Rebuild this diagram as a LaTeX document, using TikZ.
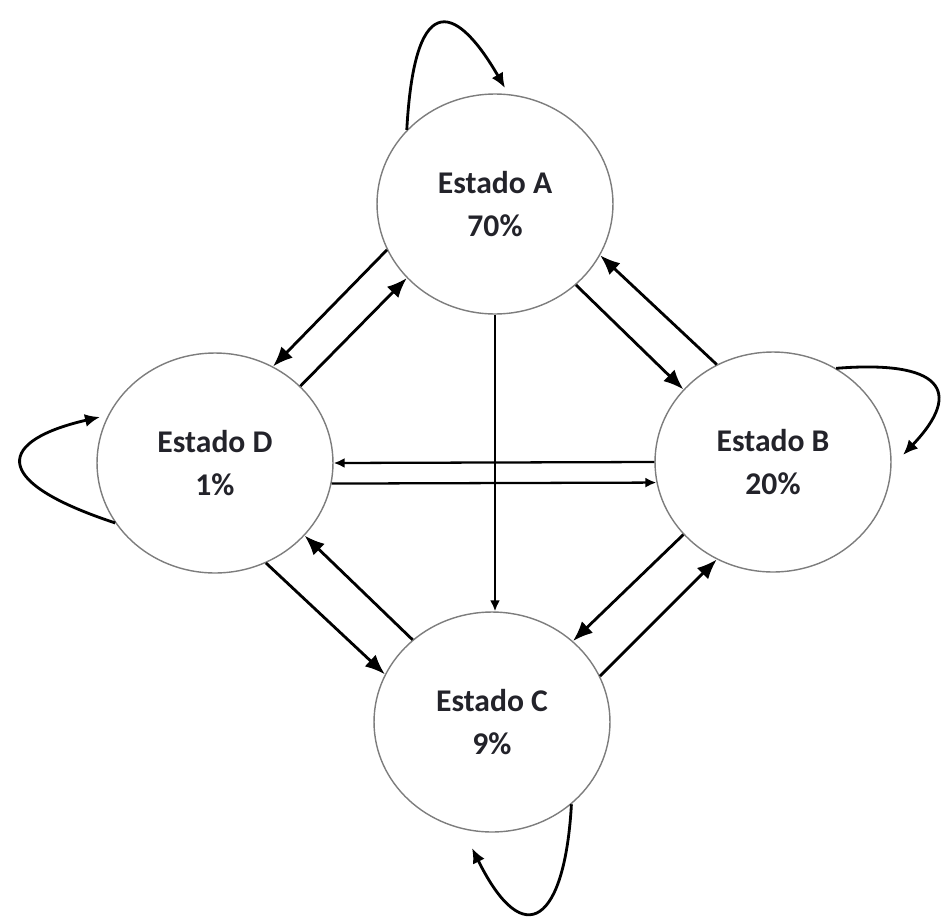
\documentclass[tikz,border=0pt]{standalone}
\usepackage{fontspec}
\setmainfont{Carlito}
\usepackage{tikz}
\usetikzlibrary{arrows.meta, shapes.geometric}
\definecolor{cBorder}{RGB}{125,125,125}
\definecolor{cText}{RGB}{35,35,42}

\begin{document}
\begin{tikzpicture}[x=0.02cm, y=-0.02cm,
        estado/.style={ellipse, draw=cBorder, line width=0.8pt, minimum width=4.72cm,
        minimum height=4.4cm, inner sep=0pt, align=center,
        font=\fontsize{18}{24}\selectfont\bfseries, text=cText},
        arrow/.style={-{Latex[length=4mm, width=3.2mm]}, line width=1.6pt},
        thinarrow/.style={-{Latex[length=2.2mm, width=2mm]}, line width=1.3pt},
        selfloop/.style={-{Latex[length=3mm, width=2.6mm]}, line width=1.6pt}
    ]
        \useasboundingbox (0,0) rectangle (943,916);

        \node[estado] (A) at (495,204) {Estado A\\70\%};
        \node[estado] (B) at (773,462) {Estado B\\20\%};
        \node[estado] (C) at (492,722) {Estado C\\9\%};
        \node[estado] (D) at (215,463) {Estado D\\1\%};

        % --- between neighbours ---
        \draw[arrow] (A.203) -- (D.59);
        \draw[arrow] (D.42)  -- (A.220);
        \draw[arrow] (A.315) -- (B.141);
        \draw[arrow] (B.120) -- (A.334);
        \draw[arrow] (D.297) -- (C.156);
        \draw[arrow] (C.134) -- (D.321);
        \draw[arrow] (B.219) -- (C.45);
        \draw[arrow] (C.23)  -- (B.240);

        % --- across ---
        \draw[thinarrow] (A.south) -- (A.south |- C.north);
        \draw[thinarrow] (B.west)  -- (D.east);
        \draw[thinarrow] (D.-10)   -- (B.190);

        % --- self loops ---
        \coordinate (aLoop) at (505,88);
        \coordinate (bLoop) at (903,455);
        \coordinate (cLoop) at (472,848);
        \coordinate (dLoop) at (100,417);
        \draw[selfloop] (A.140) .. controls (415,-20) and (460,10) .. (aLoop);
        \draw[selfloop] (B.56) .. controls (940,360) and (965,390) .. (bLoop);
        \draw[selfloop] (C.314) .. controls (565,920) and (525,955) .. (cLoop);
        \draw[selfloop] (D.211) .. controls (-15,480) and (0,440) .. (dLoop);

    \end{tikzpicture}
\end{document}
